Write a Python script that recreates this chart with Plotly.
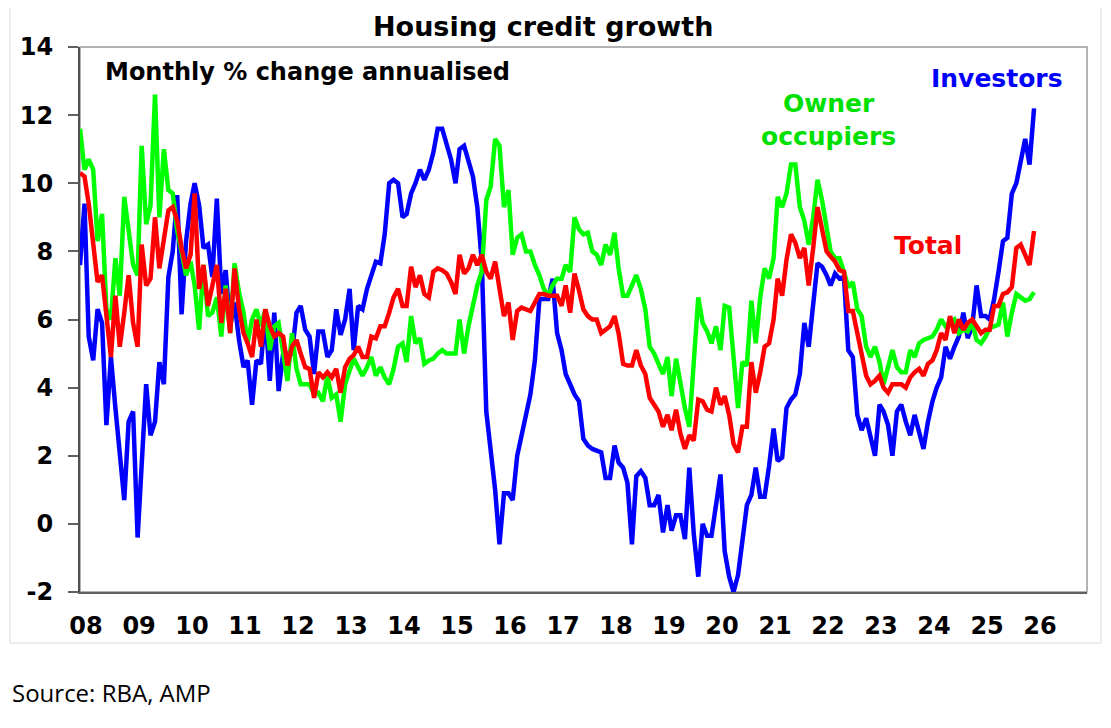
import pandas as pd
import plotly.graph_objects as go

# Monthly % change annualised (Dec-2007 .. Dec-2025)
investors = [
    7.6, 9.4, 5.5, 4.8, 6.3, 5.9, 2.9, 4.9, 3.4, 2.1, 0.7, 3.0,
    3.3, -0.4, 1.9, 4.1, 2.6, 3.0, 4.75, 4.1, 7.25, 8.0, 9.65, 6.15,
    8.3, 9.4, 10.0, 9.35, 8.1, 8.2, 7.25, 9.55, 6.75, 7.45, 5.8, 6.5,
    5.4, 4.6, 4.8, 3.5, 4.8, 4.7, 6.2, 4.2, 6.2, 3.9, 5.0, 5.0,
    5.0, 6.2, 6.4, 5.7, 5.5, 4.4, 5.65, 5.65, 4.9, 5.1, 6.3, 5.55,
    6.0, 6.9, 5.1, 6.4, 6.3, 6.9, 7.3, 7.7, 7.65, 8.5, 10.0, 10.1,
    10.0, 9.0, 9.1, 9.7, 10.0, 10.4, 10.1, 10.4, 10.9, 11.6, 11.6, 11.2,
    10.7, 10.0, 11.0, 11.1, 10.7, 10.2, 9.3, 7.7, 3.3, 2.2, 1.0, -0.6,
    0.9, 0.9, 0.7, 2.0, 2.6, 3.2, 3.8, 4.8, 6.6, 6.6, 6.6, 7.2,
    5.6, 5.1, 4.4, 4.1, 3.8, 3.6, 2.5, 2.3, 2.2, 2.15, 2.1, 1.35,
    1.35, 2.3, 1.8, 1.65, 1.2, -0.6, 1.4, 1.55, 1.35, 0.55, 0.55, 0.85,
    -0.25, 0.55, -0.2, 0.25, 0.25, -0.45, 1.65, -0.3, -1.55, 0.0, -0.35, -0.35,
    0.55, 1.45, -0.8, -1.55, -2.0, -1.5, -0.5, 0.55, 0.85, 1.65, 0.8, 0.8,
    1.7, 2.8, 1.85, 1.95, 3.4, 3.65, 3.8, 4.4, 5.9, 5.2, 6.45, 7.65,
    7.55, 7.3, 7.0, 7.35, 7.2, 7.25, 5.1, 4.9, 3.2, 2.75, 3.1, 2.55,
    2.0, 3.5, 3.3, 2.9, 2.0, 3.3, 3.5, 3.0, 2.6, 3.2, 2.75, 2.2,
    3.0, 3.6, 4.0, 4.3, 5.2, 4.85, 5.2, 5.5, 6.2, 5.45, 5.8, 7.0,
    6.1, 6.1, 6.0, 6.6, 7.4, 8.3, 8.4, 9.7, 10.0, 10.65, 11.3, 10.55, 12.2,
]

owner_occupiers = [
    11.6, 10.4, 10.7, 10.4, 8.3, 9.1, 6.3, 6.0, 7.8, 6.7, 9.6, 8.6,
    7.6, 7.3, 11.1, 8.8, 9.35, 12.6, 9.0, 11.0, 9.8, 9.7, 8.6, 8.0,
    7.3, 7.7, 7.0, 5.7, 7.6, 6.1, 6.2, 6.65, 5.5, 7.0, 5.6, 7.65,
    6.8, 6.2, 5.3, 6.0, 6.3, 5.8, 6.3, 5.1, 5.8, 5.9, 5.0, 4.2,
    5.6, 4.55, 4.1, 4.1, 4.1, 3.8, 3.85, 3.6, 4.35, 3.7, 3.8, 3.0,
    4.1, 4.5, 4.85, 4.6, 4.35, 4.6, 4.9, 4.35, 4.6, 4.3, 4.1, 4.55,
    5.2, 5.3, 4.75, 6.1, 5.3, 5.45, 4.7, 4.8, 4.85, 5.0, 5.1, 5.0,
    5.0, 5.0, 6.0, 5.0, 5.8, 6.45, 7.0, 7.4, 9.5, 9.9, 11.3, 11.1,
    9.3, 9.8, 7.9, 8.4, 8.5, 8.0, 8.0, 7.6, 7.3, 6.9, 6.7, 7.0,
    7.2, 7.2, 7.6, 7.4, 9.0, 8.65, 8.5, 8.55, 8.0, 7.9, 7.6, 8.2,
    7.9, 8.55, 7.5, 6.7, 6.7, 7.0, 7.3, 6.9, 6.3, 5.2, 5.0, 4.7,
    4.4, 4.9, 3.75, 4.85, 4.1, 3.4, 2.85, 4.75, 6.65, 5.9, 5.65, 5.3,
    5.8, 5.1, 6.4, 6.35, 4.75, 3.4, 4.75, 4.65, 6.55, 5.3, 6.65, 7.5,
    7.2, 7.8, 9.6, 9.3, 9.7, 10.55, 10.55, 9.3, 8.9, 8.2, 9.0, 10.1,
    9.5, 8.75, 8.0, 7.8, 7.8, 7.4, 6.95, 7.1, 6.3, 6.1, 5.2, 4.9,
    5.2, 4.75, 4.1, 4.6, 5.1, 4.6, 4.45, 4.45, 5.1, 4.9, 5.3, 5.4,
    5.45, 5.5, 5.7, 6.0, 5.8, 5.9, 6.0, 5.6, 5.7, 5.65, 5.9, 5.4,
    5.3, 5.5, 5.75, 5.8, 5.85, 6.5, 5.5, 6.2, 6.75, 6.65, 6.55, 6.6, 6.8,
]

total = [
    10.3, 10.2, 9.4, 8.3, 7.1, 7.3, 6.0, 4.9, 6.7, 5.2, 6.2, 7.3,
    5.9, 5.2, 8.2, 7.0, 7.2, 9.0, 7.5, 8.3, 9.2, 9.3, 8.9, 8.1,
    7.5, 7.9, 9.7, 6.9, 7.6, 6.4, 7.0, 7.6, 5.9, 6.9, 5.6, 7.5,
    6.3, 5.6, 5.3, 4.9, 6.0, 5.2, 6.3, 5.8, 5.5, 5.6, 5.5, 4.65,
    5.2, 5.4, 5.0, 4.6, 4.55, 3.7, 4.45, 4.3, 4.45, 4.3, 4.55, 3.85,
    4.6, 4.85, 4.95, 5.2, 4.9, 4.9, 5.5, 5.45, 5.8, 5.8, 6.2, 6.65,
    6.9, 6.4, 6.4, 7.55, 6.95, 7.3, 6.75, 6.65, 7.4, 7.5, 7.45, 7.35,
    7.1, 6.75, 7.9, 7.35, 7.5, 7.9, 7.6, 7.9, 7.4, 7.2, 7.7, 6.8,
    6.1, 6.5, 5.4, 6.25, 6.35, 6.3, 6.25, 6.5, 6.75, 6.75, 6.7, 6.7,
    6.7, 6.4, 7.0, 6.2, 7.35, 6.85, 6.3, 6.1, 6.0, 6.0, 5.6, 5.7,
    5.8, 6.1, 5.6, 4.7, 4.65, 4.65, 5.1, 4.65, 4.4, 3.7, 3.5, 3.3,
    2.85, 3.2, 2.75, 3.35, 2.65, 2.2, 2.6, 2.45, 3.65, 3.6, 3.35, 3.3,
    4.0, 3.5, 3.75, 3.2, 2.35, 2.1, 2.85, 2.85, 4.75, 3.85, 4.45, 5.2,
    5.3, 6.0, 7.2, 6.7, 7.75, 8.5, 8.25, 7.8, 8.1, 7.0, 8.1, 9.3,
    8.65, 8.0, 7.85, 7.7, 7.45, 7.4, 6.25, 6.25, 5.6, 5.0, 4.35, 4.1,
    4.2, 4.35, 4.0, 3.85, 4.1, 4.1, 4.1, 4.0, 4.3, 4.45, 4.55, 4.35,
    4.7, 4.8, 5.1, 5.6, 5.4, 6.1, 5.6, 6.0, 5.7, 5.9, 6.0, 5.8,
    5.6, 5.7, 5.7, 6.4, 6.4, 6.75, 6.8, 6.95, 8.1, 8.2, 7.9, 7.6, 8.6,
]

years = list(range(2008, 2027))
year_labels = [f"{y % 100:02d}" for y in years]
y_ticks = list(range(-2, 15, 2))
y_tick_labels = [str(v) for v in y_ticks]  # plain hyphen for "-2"

FONT = "DejaVu Sans"


def month_dates(values):
    # plotted at the end of each month (start of the following month)
    return pd.date_range("2008-01-01", periods=len(values), freq="MS")


fig = go.Figure()
fig.add_trace(go.Scatter(x=month_dates(investors), y=investors, mode="lines",
                         name="Investors", line=dict(color="#0000FF", width=4.5)))
fig.add_trace(go.Scatter(x=month_dates(owner_occupiers), y=owner_occupiers, mode="lines",
                         name="Owner occupiers", line=dict(color="#00FF00", width=4.5)))
fig.add_trace(go.Scatter(x=month_dates(total), y=total, mode="lines",
                         name="Total", line=dict(color="#FF0000", width=4.5)))

x_range = ["2008-01-01", "2027-01-01"]
tickdates = [f"{y}-01-01" for y in years]

# page body has an 8px margin, so the figure is 8px smaller than the window
fig.update_layout(
    width=1103, height=712,
    margin=dict(l=72, r=24, t=39, b=128),
    paper_bgcolor="white", plot_bgcolor="white",
    showlegend=False,
    font=dict(family=FONT, color="black"),
    xaxis=dict(
        type="date", range=x_range, tickvals=tickdates, ticktext=year_labels,
        ticks="", showgrid=False, zeroline=False, automargin=False,
        showline=True, linecolor="#606060", linewidth=2,
        tickfont=dict(family=FONT, size=24, weight="bold", color="black"),
        ticklabelstandoff=11, ticklabelshift=6,
    ),
    xaxis2=dict(
        type="date", range=x_range, overlaying="x", anchor="free", position=0.125,
        tickvals=tickdates[1:], ticks="outside", ticklen=8, tickwidth=1.5,
        tickcolor="#808080", showticklabels=False, showgrid=False, zeroline=False,
        showline=True, linecolor="#808080", linewidth=1.5,
    ),
    yaxis=dict(
        range=[-2, 14], tickvals=y_ticks, ticktext=y_tick_labels, ticks="outside",
        ticklen=10, tickwidth=1.5, tickcolor="#606060", showgrid=False,
        zeroline=False, automargin=False,
        showline=True, linecolor="#505050", linewidth=2,
        tickfont=dict(family=FONT, size=24, weight="bold", color="black"),
        ticklabelstandoff=10,
    ),
)

# plot frame and outer chart border
fig.add_shape(type="rect", xref="x domain", yref="y domain", x0=0, x1=1, y0=0, y1=1,
              line=dict(color="#9a9a9a", width=1.5), layer="below")
fig.add_shape(type="rect", xref="paper", yref="paper",
              x0=-0.0695, x1=1.0139, y0=-0.0936, y1=1.0734,
              line=dict(color="#dcdcdc", width=1), layer="below")


def ann(text, x, y, color="black", size=24, xanchor="center", bold=True, family=FONT):
    fig.add_annotation(text=text, x=x, y=y, xref="paper", yref="paper",
                       xanchor=xanchor, yanchor="middle", showarrow=False,
                       font=dict(family=family, size=size, color=color,
                                 weight="bold" if bold else "normal"))


ann("Housing credit growth", 0.46, 1.037, size=27)
ann("Monthly % change annualised", 0.0228, 0.954, size=24, xanchor="left")
ann("Investors", 0.911, 0.943, color="#0000FF", size=25)
ann("Owner<br>occupiers", 0.743, 0.866, color="#00E000", size=25)
ann("Total", 0.842, 0.635, color="#FF0000", size=25)
ann("Source: RBA, AMP", -0.0695, -0.1835, size=24, xanchor="left", bold=False,
    family="Open Sans")

fig.write_html("out.html")
